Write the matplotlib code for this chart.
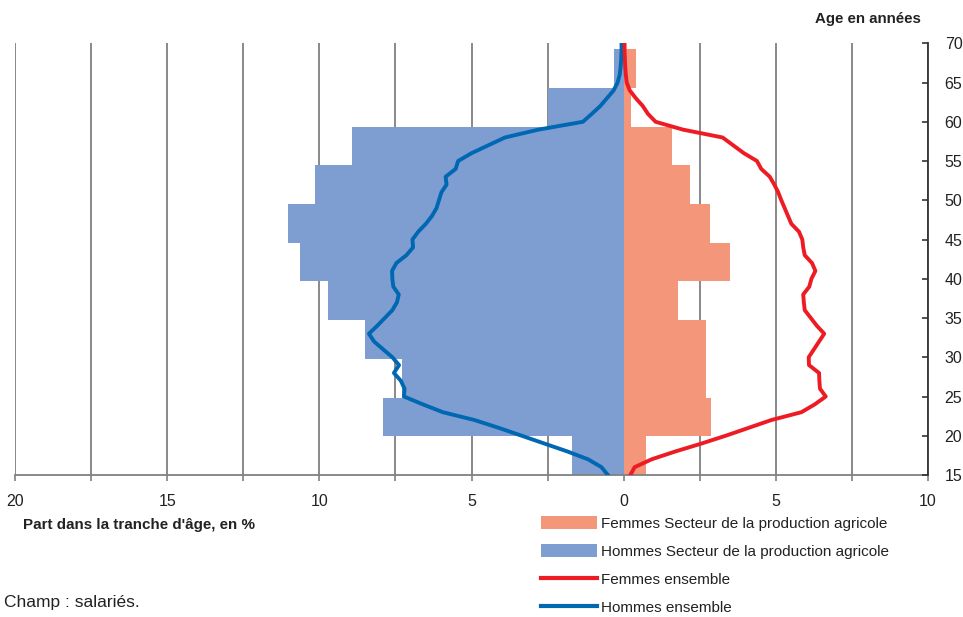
import matplotlib
matplotlib.use("Agg")
import matplotlib.pyplot as plt
from matplotlib.ticker import MultipleLocator, FuncFormatter
from matplotlib.patches import Patch
from matplotlib.lines import Line2D
import numpy as np

plt.rcParams['font.family'] = ['Liberation Sans Narrow', 'Liberation Sans', 'DejaVu Sans']

# ---- data ----
age_groups = ['15-19', '20-24', '25-29', '30-34', '35-39', '40-44',
              '45-49', '50-54', '55-59', '60-64', '65-69']
men_agri = [1.71, 7.91, 7.30, 8.50, 9.72, 10.64, 11.03, 10.15, 8.93, 2.47, 0.33]
women_agri = [0.74, 2.88, 2.70, 2.70, 1.78, 3.48, 2.85, 2.17, 1.60, 0.25, 0.42]

ages = list(range(15, 71))
men_all = [0.52, 0.73, 1.17, 1.85, 2.60, 3.35, 4.10, 4.90, 5.94, 6.60,
           7.22, 7.20, 7.32, 7.55, 7.38, 7.60, 7.90, 8.20, 8.37, 8.10,
           7.85, 7.60, 7.45, 7.39, 7.57, 7.60, 7.61, 7.47, 7.14, 6.92,
           6.94, 6.75, 6.50, 6.30, 6.15, 6.07, 5.99, 5.82, 5.85, 5.52,
           5.44, 5.00, 4.45, 3.90, 2.80, 1.34, 1.05, 0.77, 0.55, 0.33,
           0.20, 0.13, 0.10, 0.08, 0.07, 0.07]
women_all = [0.22, 0.36, 0.92, 1.70, 2.55, 3.35, 4.10, 4.85, 5.84, 6.28,
             6.64, 6.45, 6.43, 6.42, 6.09, 6.08, 6.25, 6.42, 6.59, 6.35,
             6.15, 5.95, 5.92, 5.90, 6.10, 6.17, 6.30, 6.19, 5.95, 5.90,
             5.87, 5.76, 5.51, 5.40, 5.29, 5.18, 5.08, 4.95, 4.80, 4.52,
             4.38, 3.95, 3.60, 3.25, 1.95, 1.05, 0.80, 0.63, 0.40, 0.20,
             0.10, 0.07, 0.05, 0.04, 0.03, 0.03]

labels = ['Femmes Secteur de la production agricole',
          'Hommes Secteur de la production agricole',
          'Femmes ensemble', 'Hommes ensemble']

c_women_bar = '#F49679'
c_men_bar = '#7E9ED2'
c_women_line = '#ED1C24'
c_men_line = '#0067B3'
grid_c = '#808080'
txt_c = '#222222'

W, H = 963, 617
fig = plt.figure(figsize=(W / 100, H / 100), dpi=100)
ax = fig.add_axes([15 / W, 1 - 475 / H, (928 - 15) / W, (475 - 43.3) / H])

# bars on categorical axis
pos = np.arange(len(age_groups)) + 0.5
ax.barh(pos, [-v for v in men_agri], height=1.0, color=c_men_bar, zorder=2)
ax.barh(pos, women_agri, height=1.0, color=c_women_bar, zorder=2)
ax.set_ylim(0, 11.15)
ax.set_xlim(-20, 10)
ax.set_yticks([])

ax.xaxis.set_major_locator(MultipleLocator(5))
ax.xaxis.set_minor_locator(MultipleLocator(2.5))
ax.xaxis.set_major_formatter(FuncFormatter(lambda v, p: f"{abs(v):g}"))
ax.grid(True, axis='x', which='both', color=grid_c, lw=1.3, zorder=0)
ax.set_axisbelow(True)
ax.tick_params(axis='x', which='both', direction='out', length=4, width=1.2,
               color=grid_c, pad=9.7, labelsize=11.5, labelcolor=txt_c)
for s in ['top', 'left', 'right']:
    ax.spines[s].set_visible(False)
ax.spines['bottom'].set_color(grid_c)
ax.spines['bottom'].set_linewidth(1.3)

# lines on age axis
ax2 = ax.twinx()
ax2.plot([-v for v in men_all], ages, color=c_men_line, lw=2.8, solid_joinstyle='round', zorder=3)
ax2.plot(women_all, ages, color=c_women_line, lw=2.8, solid_joinstyle='round', zorder=3)
ax2.set_ylim(15, 70)
ax2.set_xlim(-20, 10)
ax2.yaxis.set_major_locator(MultipleLocator(5))
ax2.tick_params(axis='y', direction='in', length=4, width=1.2, color='#333333',
                pad=12, labelsize=11.5, labelcolor=txt_c)
for s in ['top', 'left', 'bottom']:
    ax2.spines[s].set_visible(False)
ax2.spines['right'].set_color('#333333')
ax2.spines['right'].set_linewidth(1.3)

fig.text(921 / W, 1 - 19 / H, 'Age en années', ha='right', va='center',
         fontsize=10.8, fontweight='bold', color=txt_c)
fig.text(23 / W, 1 - 525 / H, "Part dans la tranche d'âge, en %", ha='left', va='center',
         fontsize=10.9, fontweight='bold', color=txt_c)
fig.text(4 / W, 1 - 603 / H, 'Champ : salariés.', ha='left', va='center',
         fontsize=12.5, color=txt_c)

handles = [Patch(facecolor=c_women_bar, edgecolor='none'),
           Patch(facecolor=c_men_bar, edgecolor='none'),
           Line2D([], [], color=c_women_line, lw=3),
           Line2D([], [], color=c_men_line, lw=3)]
fs = 11
fig.legend(handles, labels, loc='upper left', bbox_to_anchor=(541 / W, 1 - 516 / H),
           frameon=False, fontsize=fs, handlelength=3.66, handleheight=0.9,
           handletextpad=0.26, labelspacing=0.88, borderpad=0, borderaxespad=0,
           labelcolor=txt_c)

fig.savefig('out.png', dpi=100)
